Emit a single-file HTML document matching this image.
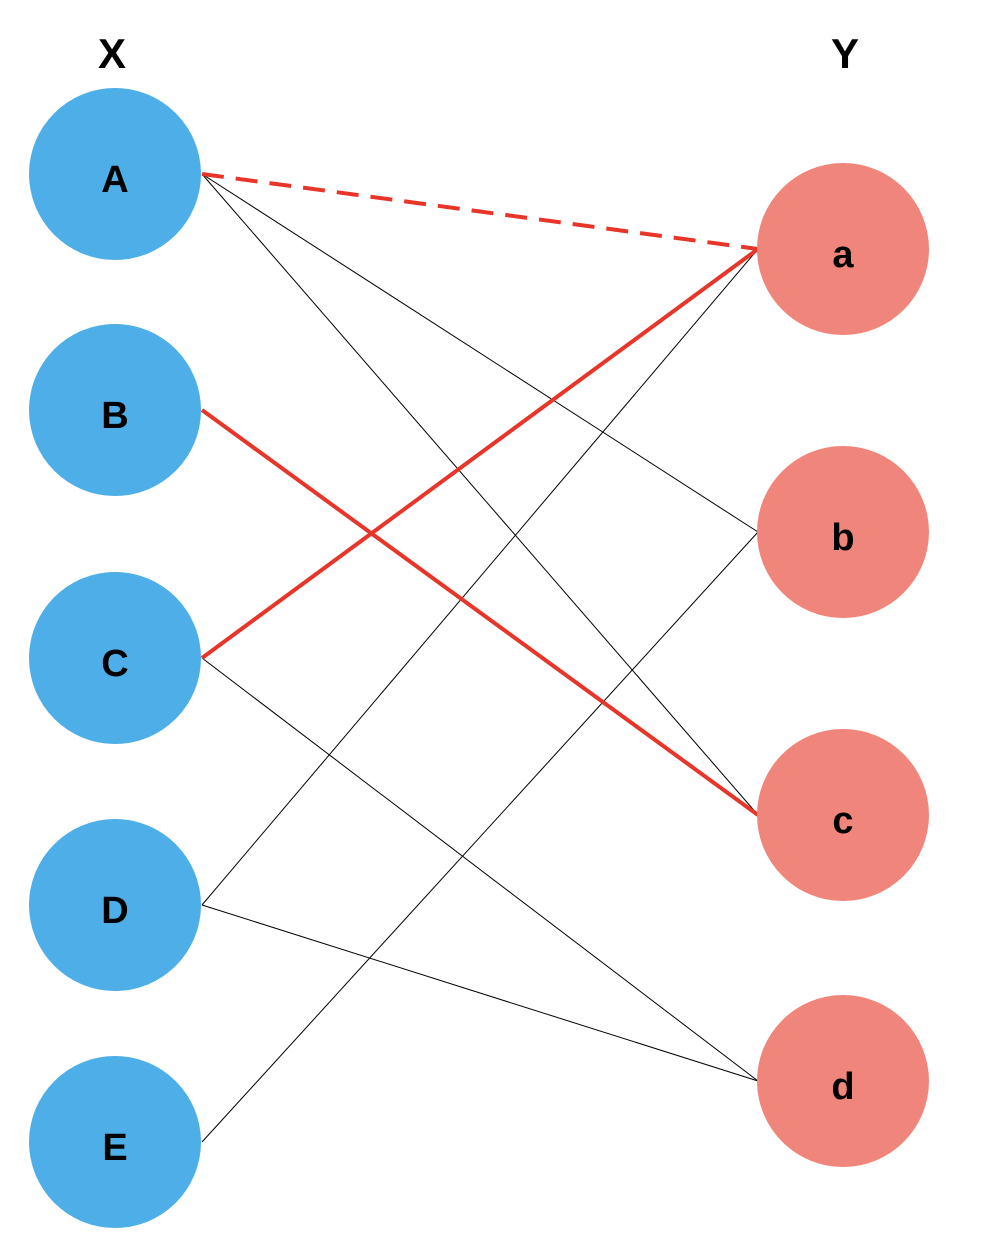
<!DOCTYPE html>
<html><head><meta charset="utf-8"><style>
html,body{margin:0;padding:0;background:#fff;}
svg{display:block;}
text{font-family:"Liberation Sans",sans-serif;font-weight:bold;fill:#000;text-anchor:middle;}
</style></head><body>
<svg width="992" height="1248" viewBox="0 0 992 1248" xmlns="http://www.w3.org/2000/svg">
<text x="112" y="68" font-size="42">X</text>
<text x="845" y="68" font-size="42">Y</text>
<g stroke="#000" stroke-width="1" fill="none">
<line x1="202" y1="174" x2="758" y2="532"/>
<line x1="202" y1="174" x2="758" y2="815"/>
<line x1="202" y1="658" x2="758" y2="1081"/>
<line x1="202" y1="905" x2="758" y2="249"/>
<line x1="202" y1="905" x2="758" y2="1081"/>
<line x1="202" y1="1142" x2="758" y2="532"/>
</g>
<g stroke="#e8352a" stroke-width="4" fill="none">
<line x1="202" y1="174" x2="758" y2="249" stroke-dasharray="22,12"/>
<line x1="202" y1="410" x2="758" y2="815"/>
<line x1="202" y1="658" x2="758" y2="249"/>
</g>
<g fill="#4daee8">
<circle cx="115" cy="174" r="86"/>
<circle cx="115" cy="410" r="86"/>
<circle cx="115" cy="658" r="86"/>
<circle cx="115" cy="905" r="86"/>
<circle cx="115" cy="1142" r="86"/>
</g>
<g fill="#f0857b">
<circle cx="843" cy="249" r="86"/>
<circle cx="843" cy="532" r="86"/>
<circle cx="843" cy="815" r="86"/>
<circle cx="843" cy="1081" r="86"/>
</g>
<g font-size="38">
<text x="115" y="192">A</text>
<text x="115" y="428">B</text>
<text x="115" y="676">C</text>
<text x="115" y="923">D</text>
<text x="115" y="1160">E</text>
<text x="843" y="267">a</text>
<text x="843" y="550">b</text>
<text x="843" y="833">c</text>
<text x="843" y="1099">d</text>
</g>
</svg>
</body></html>
